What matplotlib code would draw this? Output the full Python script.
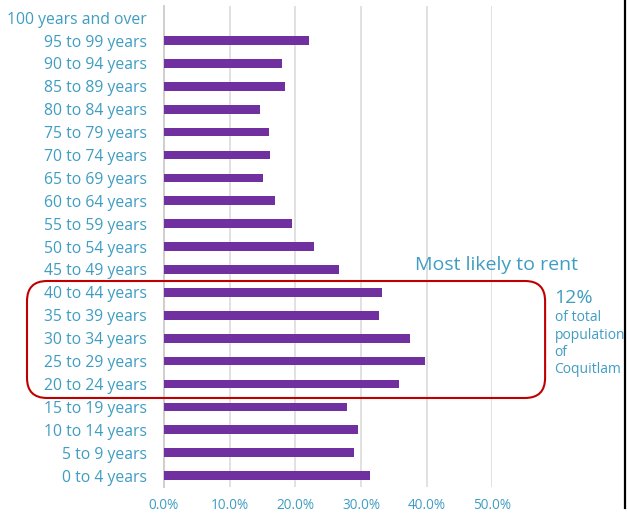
import matplotlib
matplotlib.use("Agg")
import matplotlib.pyplot as plt
from matplotlib.patches import FancyBboxPatch
from matplotlib.lines import Line2D
from matplotlib.ticker import FuncFormatter

# age groups, bottom to top
age_groups = [
    "0 to 4 years", "5 to 9 years", "10 to 14 years", "15 to 19 years",
    "20 to 24 years", "25 to 29 years", "30 to 34 years", "35 to 39 years",
    "40 to 44 years", "45 to 49 years", "50 to 54 years", "55 to 59 years",
    "60 to 64 years", "65 to 69 years", "70 to 74 years", "75 to 79 years",
    "80 to 84 years", "85 to 89 years", "90 to 94 years", "95 to 99 years",
    "100 years and over",
]
# share of renters per age group
renter_share = [
    0.313, 0.290, 0.296, 0.279,
    0.358, 0.397, 0.374, 0.327,
    0.332, 0.266, 0.229, 0.195,
    0.169, 0.151, 0.162, 0.160,
    0.146, 0.184, 0.180, 0.221,
    0.0,
]
x_ticks = [0.0, 0.1, 0.2, 0.3, 0.4, 0.5]

TEXT = "#3F9DC2"
BAR = "#7030A0"

plt.rcParams["font.family"] = ["Open Sans", "DejaVu Sans"]

fig = plt.figure(figsize=(6.28, 5.14), dpi=100)
ax = fig.add_axes([0.261, 0.0525, 0.523, 0.9355])

ypos = list(range(len(age_groups)))
ax.barh(ypos, renter_share, height=0.38, color=BAR, zorder=3)

ax.set_xlim(0, 0.5)
ax.set_ylim(-0.5, len(age_groups) - 0.5)
ax.set_xticks(x_ticks)
ax.xaxis.set_major_formatter(FuncFormatter(lambda v, _: f"{v * 100:.1f}%"))
ax.set_yticks(ypos)
ax.set_yticklabels(age_groups)
ax.tick_params(axis="y", length=0, pad=12, labelsize=11.3, labelcolor=TEXT)
ax.tick_params(axis="x", length=0, pad=8, labelsize=9.8, labelcolor=TEXT)

ax.grid(axis="x", color="#D9D9D9", linewidth=1.1, zorder=0)
for side in ["top", "right", "bottom"]:
    ax.spines[side].set_visible(False)
ax.spines["left"].set_color("#CFCFCF")
ax.spines["left"].set_linewidth(1.4)

# highlight box around the 20-44 age groups
box = FancyBboxPatch(
    (0.043, 0.2257), 0.825, 0.2276,
    boxstyle="round,pad=0,rounding_size=0.032",
    mutation_aspect=6.28 / 5.14,
    transform=fig.transFigure, fill=False,
    edgecolor="#C00000", linewidth=1.5, zorder=5,
)
fig.patches.append(box)

fig.text(0.661, 0.484, "Most likely to rent", color=TEXT, fontsize=14,
         ha="left", va="center")
fig.text(0.882, 0.42, "12%", color=TEXT, fontsize=14, ha="left", va="center")
fig.text(0.883, 0.396, "of total\npopulation\nof\nCoquitlam", color=TEXT,
         fontsize=10, ha="left", va="top", linespacing=1.2)

# dark edge on the right side of the image
fig.lines.append(Line2D([0.9955, 0.9955], [0.012, 1.0], transform=fig.transFigure,
                        color="black", linewidth=1.6))

fig.savefig("out.png", dpi=100)
